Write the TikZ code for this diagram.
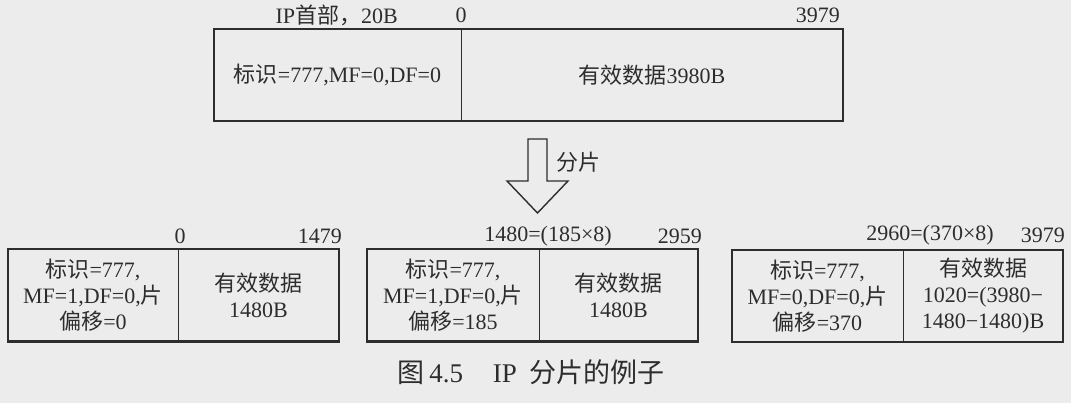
\documentclass[tikz,border=0pt]{standalone}
\usepackage{fontspec}
\setmainfont{Liberation Serif}
\newfontfamily\cjk{Noto Sans CJK SC}
\definecolor{bg}{RGB}{236,236,236}
\definecolor{ink}{RGB}{45,45,45}
\tikzset{
  cell/.style={inner sep=0pt, align=center, text=ink, font=\fontsize{22}{26}\selectfont},
  outerbox/.style={draw=ink, line width=2.4pt},
  divider/.style={draw=ink, line width=1.3pt},
  lbl/.style={inner sep=0pt, text=ink, font=\fontsize{22}{26}\selectfont},
  blockarrow/.style={draw=ink, line width=1.4pt, fill=bg, line join=miter},
  caption/.style={inner sep=0pt, text=ink, font=\fontsize{27}{32}\selectfont}
}
\begin{document}
\begin{tikzpicture}[x=1pt,y=-1pt]
\fill[bg] (0,0) rectangle (1071,403);
\useasboundingbox (0,0) rectangle (1071,403);

% ---------- top datagram ----------
\node[cell, minimum width=247pt, minimum height=92pt] (h0) at (337.5,75) {{\cjk 标识}=777,MF=0,DF=0};
\node[cell, minimum width=382pt, minimum height=92pt] (d0) at (652,75) {{\cjk 有效数据}3980B};
\draw[outerbox] (h0.north west) rectangle (d0.south east);
\draw[divider] (h0.north east) -- (h0.south east);
\node[lbl, anchor=east] (t0a) at (398,15) {IP{\cjk 首部，}20B};
\node[lbl] (t0b) at (461,15) {0};
\node[lbl, anchor=east] (t0c) at (840,15) {3979};

% ---------- arrow ----------
\draw[blockarrow] (528,139) -- (547,139) -- (547,181) -- (568,181) -- (537.5,213) -- (507,181) -- (528,181) -- cycle;
\node[lbl] (frag) at (578,162) {{\cjk 分片}};

% ---------- fragment 1 ----------
\node[cell, minimum width=170pt, minimum height=92pt] (h1) at (93,295.5) {{\cjk 标识}=777,\\MF=1,DF=0,{\cjk 片}\\{\cjk 偏移}=0};
\node[cell, minimum width=161pt, minimum height=92pt] (d1) at (258.5,295.5) {{\cjk 有效数据}\\1480B};
\draw[outerbox] (h1.north west) rectangle (d1.south east);
\draw[divider] (h1.north east) -- (h1.south east);
\node[lbl] (t1a) at (180,236) {0};
\node[lbl, anchor=east] (t1b) at (342,236) {1479};

% ---------- fragment 2 ----------
\node[cell, minimum width=172pt, minimum height=92pt] (h2) at (453,295.5) {{\cjk 标识}=777,\\MF=1,DF=0,{\cjk 片}\\{\cjk 偏移}=185};
\node[cell, minimum width=159pt, minimum height=92pt] (d2) at (618.5,295.5) {{\cjk 有效数据}\\1480B};
\draw[outerbox] (h2.north west) rectangle (d2.south east);
\draw[divider] (h2.north east) -- (h2.south east);
\node[lbl] (t2a) at (548,236) {1480=(185×8)};
\node[lbl, anchor=east] (t2b) at (702,236) {2959};

% ---------- fragment 3 ----------
\node[cell, minimum width=171pt, minimum height=92pt] (h3) at (817.5,296) {{\cjk 标识}=777,\\MF=0,DF=0,{\cjk 片}\\{\cjk 偏移}=370};
\node[cell, minimum width=160pt, minimum height=92pt] (d3) at (983,296) {{\cjk 有效数据}\\1020=(3980−\\1480−1480)B};
\draw[outerbox] (h3.north west) rectangle (d3.south east);
\draw[divider] (h3.north east) -- (h3.south east);
\node[lbl] (t3a) at (930,235) {2960=(370×8)};
\node[lbl, anchor=east] (t3b) at (1065,235) {3979};

% ---------- caption ----------
\node[caption] (cap) at (531,372) {{\cjk 图}\,4.5\hspace{1.1em}IP\hspace{0.45em}{\cjk 分片的例子}};
\end{tikzpicture}
\end{document}
